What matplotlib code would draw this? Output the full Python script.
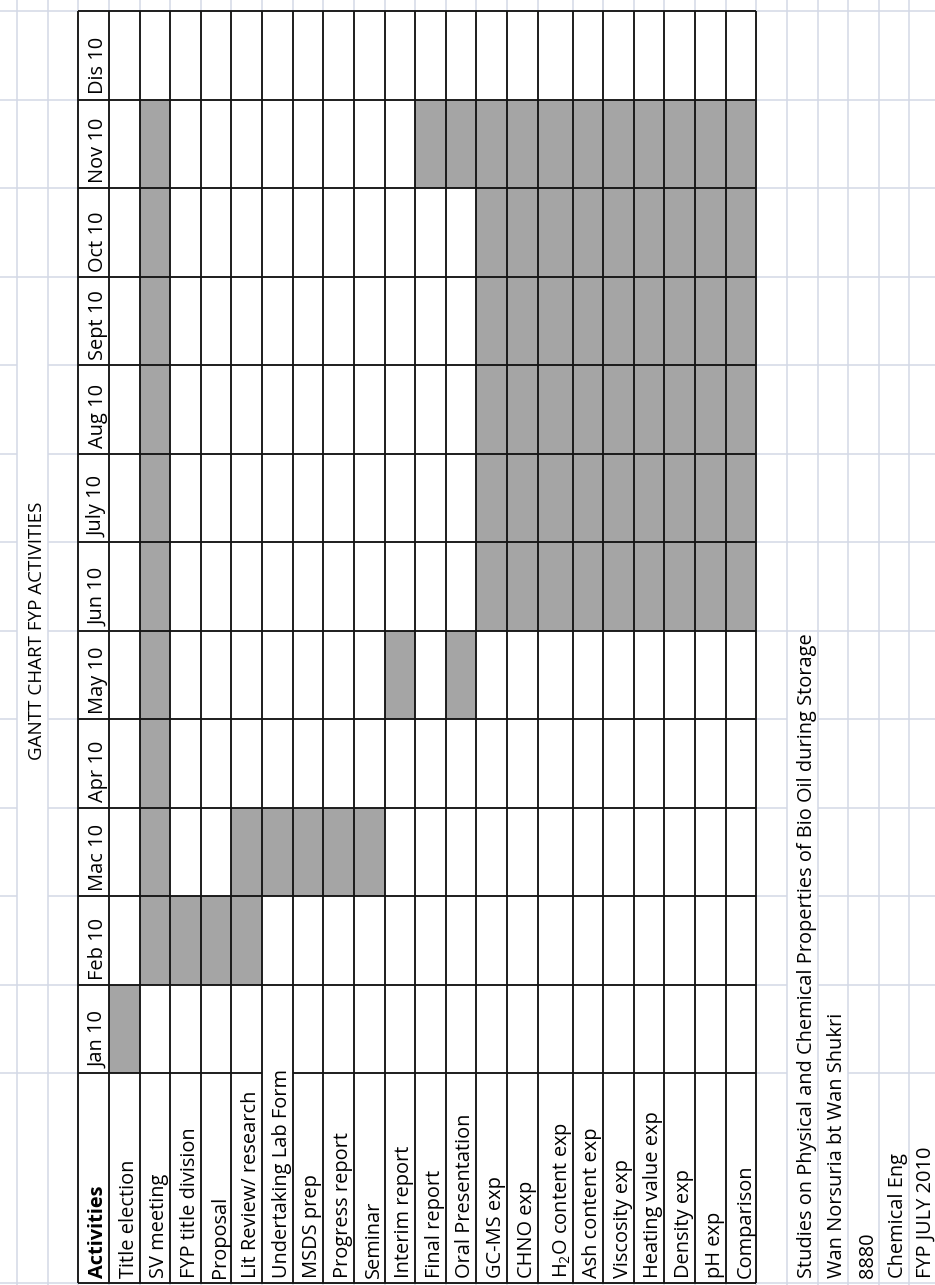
import matplotlib
matplotlib.use('Agg')
import matplotlib.pyplot as plt
from matplotlib.patches import Rectangle
from matplotlib.collections import LineCollection
from matplotlib.transforms import Bbox, TransformedBbox

plt.rcParams['font.family'] = ['Open Sans', 'DejaVu Sans']
plt.rcParams['mathtext.default'] = 'regular'

# ---------------------------------------------------------------- data
chart_title = 'GANTT CHART FYP ACTIVITIES'
header_label = 'Activities'
months = ['Jan 10', 'Feb 10', 'Mac 10', 'Apr 10', 'May 10', 'Jun 10',
          'July 10', 'Aug 10', 'Sept 10', 'Oct 10', 'Nov 10', 'Dis 10']
activities = ['Title election', 'SV meeting', 'FYP title division', 'Proposal',
              'Lit Review/ research', 'Undertaking Lab Form', 'MSDS prep',
              'Progress report', 'Seminar', 'Interim report', 'Final report',
              'Oral Presentation', 'GC-MS exp', 'CHNO exp', 'H$_2$O content exp',
              'Ash content exp', 'Viscosity exp', 'Heating value exp',
              'Density exp', 'pH exp', 'Comparison']
# months (0 = Jan 10) in which each activity is scheduled
scheduled = [
    [0],
    [1, 2, 3, 4, 5, 6, 7, 8, 9, 10],
    [1],
    [1],
    [1, 2],
    [2],
    [2],
    [2],
    [2],
    [4],
    [10],
    [4, 10],
    [5, 6, 7, 8, 9, 10],
    [5, 6, 7, 8, 9, 10],
    [5, 6, 7, 8, 9, 10],
    [5, 6, 7, 8, 9, 10],
    [5, 6, 7, 8, 9, 10],
    [5, 6, 7, 8, 9, 10],
    [5, 6, 7, 8, 9, 10],
    [5, 6, 7, 8, 9, 10],
    [5, 6, 7, 8, 9, 10],
]
project_info = ['Studies on Physical and Chemical Properties of Bio Oil during Storage',
                'Wan Norsuria bt Wan Shukri', '8880', 'Chemical Eng', 'FYP JULY 2010']

# ---------------------------------------------------------------- layout
W, H, DPI = 935, 1285, 100
COL_W = 30.62
TABLE_LEFT = 78.3
TOP = 11.0
MONTH_H = 88.5
HEADER_H = 210.0
WIDE_COLS = {'H$_2$O content exp': 35.0}
LONG_LABELS = {'Undertaking Lab Form'}  # labels running past the header cell
TITLE_SPAN = (2, 7)            # merged title cell covers Mac 10 .. Aug 10
INFO_REACH = [4, 0, None, None, None]   # month row each info line overflows into
FONT_SIZE = 14.4
TITLE_SIZE = 13.5
GRID_COLOR = '#d3d9e6'
LINE_COLOR = '#151515'
FILL_COLOR = '#a5a5a5'
PAD_END = 5
PAD_BASE = 6

n_m = len(months)


def month_top(i):
    return TOP + (n_m - 1 - i) * MONTH_H


header_top = TOP + n_m * MONTH_H
bottom = header_top + HEADER_H

table_x = [TABLE_LEFT, TABLE_LEFT + COL_W]
for a in activities:
    table_x.append(table_x[-1] + WIDE_COLS.get(a, COL_W))
table_right = table_x[-1]
left_x = [TABLE_LEFT - k * COL_W for k in (3, 2, 1)]
right_x = [table_right + k * COL_W for k in range(1, 7)]
sheet_x = left_x + table_x + right_x
row_y = [TOP - MONTH_H] + [TOP + k * MONTH_H for k in range(n_m + 1)] + [bottom]

title_col = 1
info_cols = [sheet_x.index(right_x[0]) + i for i in range(len(project_info))]


def hidden(col, y):
    if col == title_col:
        lo, hi = month_top(TITLE_SPAN[1]), month_top(TITLE_SPAN[0]) + MONTH_H
        return lo - 0.5 < y < hi + 0.5
    if col in info_cols:
        reach = INFO_REACH[info_cols.index(col)]
        if reach is not None:
            return month_top(reach) + 0.5 < y < bottom - 0.5
    return False


fig = plt.figure(figsize=(W / DPI, H / DPI), dpi=DPI)
ax = fig.add_axes([0, 0, 1, 1])
ax.set_xlim(0, W)
ax.set_ylim(H, 0)
ax.axis('off')

# sheet gridlines
grid = [[(x, 0), (x, H)] for x in sheet_x]
for y in row_y:
    for c in range(len(sheet_x) - 1):
        if not hidden(c, y):
            grid.append([(sheet_x[c], y), (sheet_x[c + 1], y)])
ax.add_collection(LineCollection(grid, colors=GRID_COLOR, linewidths=1.1, zorder=1))

# table body
ax.add_patch(Rectangle((TABLE_LEFT, TOP), table_right - TABLE_LEFT, bottom - TOP,
                       facecolor='white', edgecolor='none', zorder=2))
for a, ms in enumerate(scheduled):
    x0, x1 = table_x[a + 1], table_x[a + 2]
    for m in ms:
        ax.add_patch(Rectangle((x0, month_top(m)), x1 - x0, MONTH_H,
                               facecolor=FILL_COLOR, edgecolor='none', zorder=3))

# cell borders; the header border is left open where a label runs through it
lines = [[(x, TOP), (x, bottom)] for x in table_x]
lines += [[(TABLE_LEFT, y), (table_right, y)] for y in row_y[1:-2]]
lines.append([(TABLE_LEFT, bottom), (table_right, bottom)])
lines.append([(table_x[0], header_top), (table_x[1], header_top)])
for a, name in enumerate(activities):
    if name not in LONG_LABELS:
        lines.append([(table_x[a + 1], header_top), (table_x[a + 2], header_top)])
ax.add_collection(LineCollection(lines, colors=LINE_COLOR, linewidths=1.35, zorder=4))

txt = dict(rotation=90, rotation_mode='anchor', color='black', zorder=5)

# month labels
for i, m in enumerate(months):
    ax.text(table_x[1] - PAD_BASE, month_top(i) + MONTH_H - PAD_END, m,
            ha='left', va='baseline', fontsize=FONT_SIZE, **txt)

# activity labels
ax.text(table_x[1] - PAD_BASE, bottom - PAD_END, header_label,
        ha='left', va='baseline', fontweight='bold', fontsize=FONT_SIZE, **txt)
for a, name in enumerate(activities):
    ax.text(table_x[a + 2] - PAD_BASE, bottom - PAD_END, name,
            ha='left', va='baseline', fontsize=FONT_SIZE, **txt)

# title in its merged cell
span_lo = month_top(TITLE_SPAN[1])
span_hi = month_top(TITLE_SPAN[0]) + MONTH_H
ax.text(sheet_x[title_col + 1] - PAD_BASE, (span_lo + span_hi) / 2, chart_title,
        ha='center', va='baseline', fontsize=TITLE_SIZE, **txt)

# project details beside the table
for i, line in enumerate(project_info):
    c = info_cols[i]
    t = ax.text(min(sheet_x[c + 1] - PAD_BASE, W - 4), bottom - PAD_END, line,
                ha='left', va='baseline', fontsize=FONT_SIZE, **txt)
    if INFO_REACH[i] is not None:
        clip = Bbox([[sheet_x[c] - 2, month_top(INFO_REACH[i])],
                     [sheet_x[c + 1] + 2, bottom]])
        t.set_clip_box(TransformedBbox(clip, ax.transData))
        t.set_clip_on(True)

fig.savefig('out.png', dpi=DPI, facecolor='white')
